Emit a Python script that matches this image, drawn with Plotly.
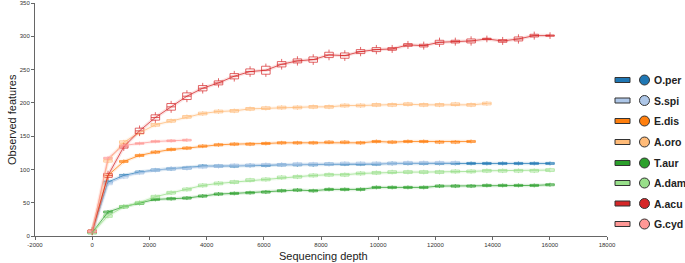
import plotly.graph_objects as go

depths = [0, 552, 1104, 1656, 2208, 2760, 3312, 3864, 4416, 4968, 5520, 6072, 6624, 7176, 7728,
          8280, 8832, 9384, 9936, 10488, 11040, 11592, 12144, 12696, 13248, 13800, 14352, 14904,
          15456, 16008]

names = ["O.per", "S.spi", "E.dis", "A.oro", "T.aur", "A.dam", "A.acu", "G.cyd"]
colors = ["#1f77b4", "#aec7e8", "#ff7f0e", "#ffbb78", "#2ca02c", "#98df8a", "#d62728", "#ff9896"]

o_per = [7, 81, 91, 96, 99, 101, 102, 105, 105, 105, 106, 106, 107, 107, 107, 108, 108, 108, 108,
         109, 109, 109, 109, 109, 109, 109, 109, 109, 109, 109]
s_spi = [6, 79, 89, 95, 99, 101, 102, 104, 105, 106, 106, 107, 107, 108, 108, 108, 109, 109, 109,
         109, 110, 110, 110, 110]
e_dis = [7, 91, 112, 121, 126, 130, 132, 135, 137, 138, 138, 139, 140, 140, 140, 141, 141, 140,
         142, 141, 142, 142, 141, 141, 142]
a_oro = [7, 113, 141, 155, 167, 173, 179, 184, 187, 188, 191, 192, 193, 193, 194, 194, 196, 196,
         197, 197, 198, 197, 197, 198, 197, 199]
t_aur = [5, 36, 44, 49, 55, 56, 57, 60, 63, 64, 65, 66, 68, 69, 68, 70, 70, 70, 73, 73, 73, 73, 75,
         75, 75, 76, 76, 76, 76, 77]
a_dam = [5, 30, 44, 50, 59, 65, 70, 76, 79, 81, 84, 85, 88, 89, 91, 92, 92, 94, 95, 96, 96, 96, 96,
         97, 97, 98, 98, 98, 98, 99]
a_acu = [7, 91, 134, 158, 178, 194, 210, 222, 230, 240, 247, 249, 258, 263, 265, 272, 271, 277, 280,
         281, 287, 286, 291, 292, 293, 296, 293, 296, 301, 301]
g_cyd = [7, 117, 136, 139, 142, 143, 144]

# half box heights (interquartile half-range)
a_acu_iqr = [2, 3, 2, 4, 4, 5, 5, 4, 3, 4, 4, 6, 4, 3, 4, 4, 4, 3, 3, 2, 2, 2, 3, 2, 3, 1, 2, 3, 2, 1]
other_iqr = [1.5, 2, 1.5, 2, 1.5, 2.0, None, 1.2]

series = [o_per, s_spi, e_dis, a_oro, t_aur, a_dam, a_acu, g_cyd]

x_ticks = list(range(-2000, 18001, 2000))
y_ticks = list(range(0, 351, 50))


def rgba(h, a):
    h = h.lstrip("#")
    r, g, b = int(h[0:2], 16), int(h[2:4], 16), int(h[4:6], 16)
    return f"rgba({r},{g},{b},{a})"


fig = go.Figure()

for i, (name, col, vals) in enumerate(zip(names, colors, series)):
    xs = depths[:len(vals)]
    if name == "A.acu":
        half = a_acu_iqr
        wh = [h + 4 for h in half]
    else:
        half = [other_iqr[i]] * len(vals)
        wh = [h + 1.5 for h in half]
    fig.add_trace(go.Scatter(x=xs, y=vals, mode="lines",
                             line=dict(color=rgba(col, 0.13), width=3.5),
                             showlegend=False, hoverinfo="skip"))
    fig.add_trace(go.Scatter(x=xs, y=vals, mode="lines",
                             line=dict(color=rgba(col, 0.75), width=1),
                             showlegend=False, hoverinfo="skip"))
    fig.add_trace(go.Box(
        x=xs,
        median=vals,
        q1=[v - h for v, h in zip(vals, half)],
        q3=[v + h for v, h in zip(vals, half)],
        lowerfence=[v - w for v, w in zip(vals, wh)],
        upperfence=[v + w for v, w in zip(vals, wh)],
        width=300,
        whiskerwidth=0,
        boxpoints=False,
        line=dict(color=rgba(col, 0.7), width=1),
        fillcolor="rgba(255,255,255,0.7)",
        showlegend=False,
        hoverinfo="skip",
    ))

# custom legend in the right margin
L, T_, PW, PH = 35, 3, 572, 233
leg_y = [80, 100.5, 121, 142, 163, 183, 203.5, 224]
shapes = []
annotations = []
for name, col, yy in zip(names, colors, leg_y):
    py = (T_ + PH - yy) / PH
    sx = (615 - L) / PW
    cx = (644.5 - L) / PW
    shapes.append(dict(type="rect", xref="paper", yref="paper", xsizemode="pixel", ysizemode="pixel",
                       xanchor=sx, yanchor=py, x0=0, x1=15, y0=-2.5, y1=2.5,
                       fillcolor=col, line=dict(color="#333333", width=1)))
    shapes.append(dict(type="circle", xref="paper", yref="paper", xsizemode="pixel", ysizemode="pixel",
                       xanchor=cx, yanchor=py, x0=-5, x1=5, y0=-5, y1=5,
                       fillcolor=col, line=dict(color="#333333", width=1)))
    annotations.append(dict(text=f"<b>{name}</b>", xref="paper", yref="paper",
                            x=(652 - L) / PW, y=py, xanchor="left", yanchor="middle",
                            showarrow=False, font=dict(size=10.5, color="#222222")))

annotations.append(dict(text="Sequencing depth", xref="paper", yref="paper",
                        x=(323 - L) / PW, y=(T_ + PH - 256) / PH, xanchor="center", yanchor="middle",
                        showarrow=False, font=dict(size=11, color="#222222")))
annotations.append(dict(text="Observed features", xref="paper", yref="paper", textangle=-90,
                        x=(12 - L) / PW, y=(T_ + PH - 120) / PH, xanchor="center", yanchor="middle",
                        showarrow=False, font=dict(size=11, color="#222222")))

fig.update_layout(
    width=685, height=263,
    margin=dict(l=35, r=78, t=3, b=27, autoexpand=False),
    plot_bgcolor="white", paper_bgcolor="white",
    font=dict(family="Liberation Sans, Arial, sans-serif", color="#333333"),
    boxmode="overlay",
    showlegend=False,
    shapes=shapes,
    annotations=annotations,
    xaxis=dict(range=[-2000, 18000], tickmode="array", tickvals=x_ticks,
               ticktext=[str(v) for v in x_ticks], automargin=False,
               showgrid=False, zeroline=False, showline=True, linecolor="#666666", linewidth=1,
               ticks="outside", ticklen=3, tickcolor="#666666", tickfont=dict(size=6)),
    yaxis=dict(range=[0, 350], tickmode="array", tickvals=y_ticks,
               ticktext=[str(v) for v in y_ticks], automargin=False,
               showgrid=False, zeroline=False, showline=True, linecolor="#666666", linewidth=1,
               ticks="outside", ticklen=3, tickcolor="#666666", tickfont=dict(size=6)),
)

fig.write_html("out.html", config={"displayModeBar": False},
               post_script="document.body.style.margin='0';document.body.style.padding='0';")
